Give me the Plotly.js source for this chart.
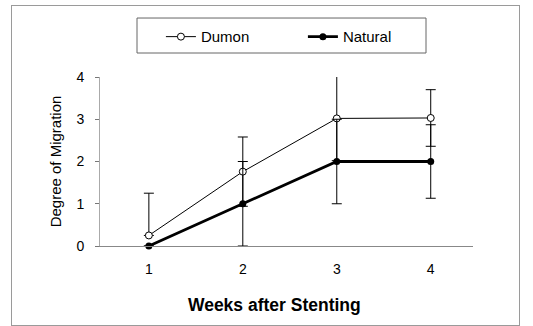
<!DOCTYPE html>
<html><head><meta charset="utf-8">
<script src="https://cdn.plot.ly/plotly-3.0.1.min.js"></script>
<style>
html,body{margin:0;padding:0;background:#fff;}
#wrap{position:relative;width:533px;height:326px;}
#chart{position:absolute;left:0;top:0;width:533px;height:326px;}
#frame{position:absolute;left:11px;top:5px;width:507px;height:319px;border:1px solid #9a9a9a;pointer-events:none;}
</style></head>
<body><div id="wrap"><div id="chart"></div><div id="frame"></div></div>
<script>
const weeks = [1, 2, 3, 4];
const dumon = [0.25, 1.76, 3.02, 3.03];
const dumonErrPlus = [1.0, 0.82, 1.0, 0.67];
const dumonErrMinus = [0, 0.82, 1.0, 0.67];
const natural = [0, 1.0, 2.0, 2.0];
const naturalErr = [0, 1.0, 1.0, 0.87];
const yTicks = [0, 1, 2, 3, 4];

const font = 'Liberation Sans, Arial, sans-serif';
const traces = [
  {x: weeks, y: dumon, name: 'Dumon', type: 'scatter', mode: 'lines+markers', cliponaxis: false,
   line: {color: '#000', width: 1},
   marker: {symbol: 'circle', size: 7, color: '#fff', line: {color: '#000', width: 1}},
   error_y: {type: 'data', array: dumonErrPlus, arrayminus: dumonErrMinus, symmetric: false, color: '#000', thickness: 1, width: 5}},
  {x: weeks, y: natural, name: 'Natural', type: 'scatter', mode: 'lines+markers', cliponaxis: false,
   line: {color: '#000', width: 2.8},
   marker: {symbol: 'circle', size: 7, color: '#000'},
   error_y: {type: 'data', array: naturalErr, color: '#000', thickness: 1, width: 5}}
];
const layout = {
  width: 533, height: 326,
  margin: {l: 100, r: 60, t: 77, b: 80},
  paper_bgcolor: '#fff', plot_bgcolor: '#fff',
  font: {family: font, color: '#000', size: 14},
  showlegend: true,
  legend: {orientation: 'h', x: 0.544, xanchor: 'center', y: 1.335, yanchor: 'top',
    bgcolor: 'rgba(0,0,0,0)', borderwidth: 0, font: {size: 15}, entrywidth: 97, itemwidth: 30},
  shapes: [{type: 'rect', xref: 'paper', yref: 'paper', x0: 0.0992, x1: 0.874, y0: 1.142, y1: 1.349,
    line: {color: '#666', width: 1}, fillcolor: 'rgba(0,0,0,0)', layer: 'below'}],
  xaxis: {range: [0.48, 4.45], tickvals: weeks, ticktext: weeks.map(String), showgrid: false, zeroline: false,
    showline: true, linecolor: '#888', linewidth: 1, ticks: '', ticklen: 0, ticklabelstandoff: 10,
    tickfont: {size: 14}, title: {text: '<b>Weeks after Stenting</b>&nbsp;&nbsp;&nbsp;&nbsp;&nbsp;', font: {size: 17.5}, standoff: 22}},
  yaxis: {range: [0, 4], tickvals: yTicks, showgrid: false, zeroline: false,
    showline: true, linecolor: '#aaa', linewidth: 1, ticks: 'outside', ticklen: 4, tickcolor: '#777',
    ticklabelstandoff: 8,
    tickfont: {size: 14}, title: {text: 'Degree of Migration', font: {size: 15}, standoff: 11}}
};
Plotly.newPlot('chart', traces, layout, {displayModeBar: false, staticPlot: true});
</script></body></html>
